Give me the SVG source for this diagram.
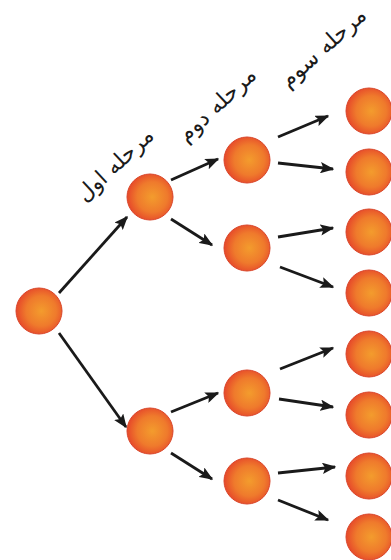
<svg xmlns="http://www.w3.org/2000/svg" width="391" height="560" viewBox="0 0 391 560">
<style>
.n{fill:url(#g);stroke:#d9452a;stroke-width:1}
.c line{stroke:#1a1a1a;stroke-width:2.8;marker-end:url(#ah)}
.lbl{font-family:"DejaVu Sans",sans-serif;font-size:22px;fill:#1a1a1a;text-anchor:middle}
</style>
<defs>
<radialGradient id="g" cx="55%" cy="50%" r="55%">
<stop offset="0" stop-color="#f39c2d"/>
<stop offset="0.6" stop-color="#ef7a2c"/>
<stop offset="1" stop-color="#e6482a"/>
</radialGradient>
<marker id="ah" viewBox="0 0 10 8" refX="9" refY="4" markerWidth="5" markerHeight="4" orient="auto" markerUnits="strokeWidth">
<path d="M0,0 L10,4 L0,8 L2,4 Z" fill="#1a1a1a"/>
</marker>
</defs>
<rect width="391" height="560" fill="#fff"/>
<g class="c" id="connectors">
<line x1="59" y1="293" x2="127" y2="217"/>
<line x1="59" y1="333" x2="126" y2="427"/>
<line x1="171" y1="180" x2="218" y2="159"/>
<line x1="171" y1="219" x2="212" y2="245"/>
<line x1="278" y1="137" x2="328" y2="116"/>
<line x1="278" y1="163" x2="333" y2="169"/>
<line x1="278" y1="237" x2="333" y2="228"/>
<line x1="280" y1="267" x2="333" y2="287"/>
<line x1="171" y1="412" x2="218" y2="393"/>
<line x1="171" y1="453" x2="212" y2="479"/>
<line x1="280" y1="369" x2="333" y2="348"/>
<line x1="279" y1="399" x2="333" y2="407"/>
<line x1="278" y1="473" x2="335" y2="467"/>
<line x1="278" y1="500" x2="328" y2="520"/>
</g>
<g id="root"><circle class="n" cx="39" cy="311" r="23"/></g>
<g id="l1a"><circle class="n" cx="150" cy="197" r="23"/></g>
<g id="l1b"><circle class="n" cx="150" cy="431" r="23"/></g>
<g id="l2a"><circle class="n" cx="247" cy="160" r="23"/></g>
<g id="l2b"><circle class="n" cx="247" cy="248" r="23"/></g>
<g id="l2c"><circle class="n" cx="247" cy="393" r="23"/></g>
<g id="l2d"><circle class="n" cx="247" cy="481" r="23"/></g>
<g id="l3a"><circle class="n" cx="369" cy="111" r="23"/></g>
<g id="l3b"><circle class="n" cx="369" cy="172" r="23"/></g>
<g id="l3c"><circle class="n" cx="369" cy="232" r="23"/></g>
<g id="l3d"><circle class="n" cx="369" cy="293" r="23"/></g>
<g id="l3e"><circle class="n" cx="369" cy="354" r="23"/></g>
<g id="l3f"><circle class="n" cx="369" cy="415" r="23"/></g>
<g id="l3g"><circle class="n" cx="369" cy="476" r="23"/></g>
<g id="l3h"><circle class="n" cx="369" cy="537" r="23"/></g>
<g id="labels">
<text class="lbl" transform="translate(120,170) rotate(-43)">مرحله اول</text>
<text class="lbl" transform="translate(222,110) rotate(-43)">مرحله دوم</text>
<text class="lbl" transform="translate(328,53) rotate(-42)">مرحله سوم</text>
</g>
</svg>
